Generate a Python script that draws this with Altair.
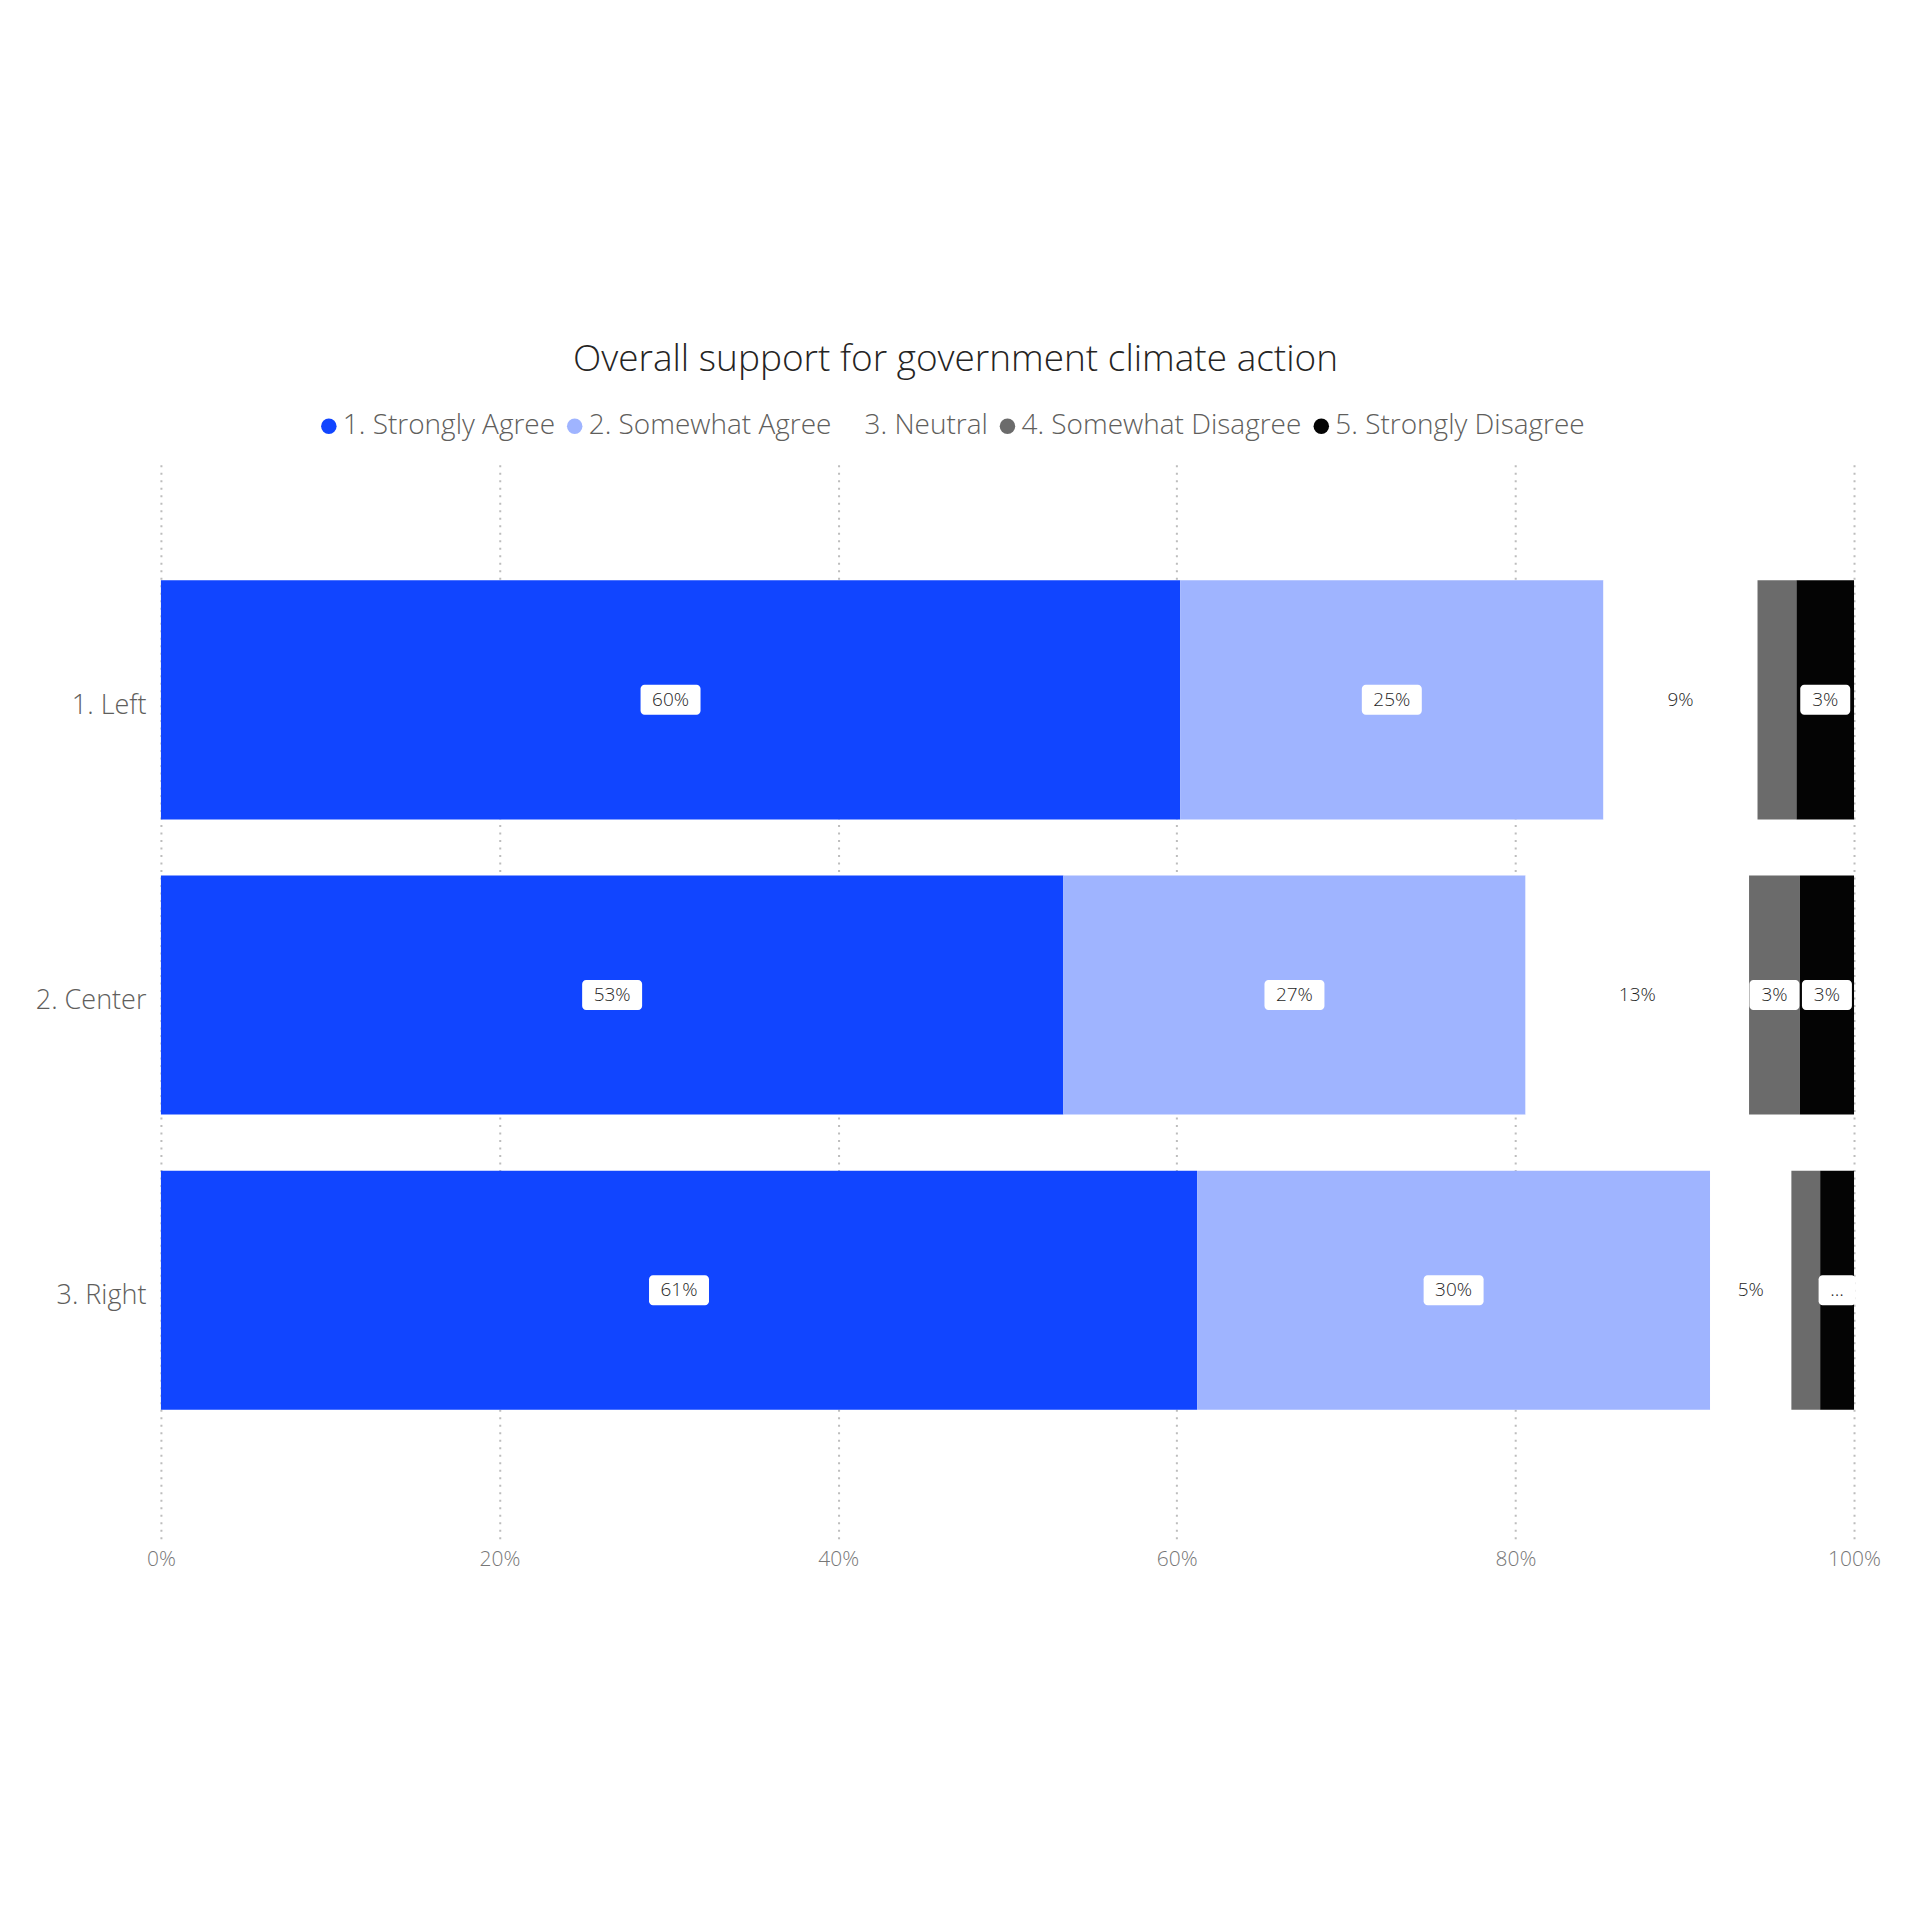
import altair as alt
import pandas as pd

groups = ["1. Left", "2. Center", "3. Right"]
categories = ["1. Strongly Agree", "2. Somewhat Agree", "3. Neutral",
              "4. Somewhat Disagree", "5. Strongly Disagree"]
colors = ["#1145FF", "#9FB4FF", "#FFFFFF", "#6B6B6B", "#040404"]

left_vals = [60.2, 25.0, 9.1, 2.3, 3.4]
center_vals = [53.3, 27.3, 13.2, 3.0, 3.2]
right_vals = [61.2, 30.3, 4.8, 1.7, 2.0]

left_labels = ["60%", "25%", "9%", "", "3%"]
center_labels = ["53%", "27%", "13%", "3%", "3%"]
right_labels = ["61%", "30%", "5%", "", "…"]

rows = []
for g, vals, labs in [(groups[0], left_vals, left_labels),
                      (groups[1], center_vals, center_labels),
                      (groups[2], right_vals, right_labels)]:
    cum = 0.0
    for i, (c, v, l) in enumerate(zip(categories, vals, labs)):
        start = cum / 100
        end = (cum + v) / 100
        cum += v
        rows.append({"group": g, "cat": c, "order": i, "start": start,
                     "end": end, "mid": (start + end) / 2, "label": l,
                     "boxed": (l != "" and c != "3. Neutral"),
                     "nchar": len(l)})
df = pd.DataFrame(rows)

FONT = "Open Sans"

x_scale = alt.Scale(domain=[0, 1], nice=False, zero=True)
y_scale = alt.Scale(domain=groups, paddingInner=0.19, paddingOuter=0.42,
                    align=0.48)

base = alt.Chart(df)

bars = base.mark_bar().encode(
    x=alt.X("start:Q", scale=x_scale,
            axis=alt.Axis(values=[0, 0.2, 0.4, 0.6, 0.8, 1.0], format=".0%",
                          title=None, grid=True, gridDash=[2, 5.5],
                          gridColor="#BDBDBD", gridWidth=2,
                          domain=False, ticks=False, labelPadding=10,
                          labelFlush=False,
                          labelFontSize=21, labelColor="#777777",
                          labelFont=FONT, labelFontWeight=300)),
    x2="end:Q",
    y=alt.Y("group:N", scale=y_scale,
            axis=alt.Axis(title=None, domain=False, ticks=False, grid=False,
                          labelFontSize=27, labelColor="#605E5C",
                          labelFont=FONT, labelFontWeight=300,
                          labelPadding=15, labelOffset=6)),
    color=alt.Color("cat:N", scale=alt.Scale(domain=categories, range=colors),
                    legend=alt.Legend(title=None, orient="none",
                                      legendX=154, legendY=-49,
                                      direction="horizontal", columns=5,
                                      symbolType="circle", symbolSize=240,
                                      labelFontSize=28, labelColor="#605E5C",
                                      labelFont=FONT, labelFontWeight=300,
                                      labelLimit=0,
                                      labelOffset=0, columnPadding=5,
                                      symbolStrokeWidth=0)),
    order=alt.Order("order:Q"),
)

def boxes(n, w):
    return base.transform_filter(
        (alt.datum.boxed == True) & (alt.datum.nchar == n)
    ).mark_bar(color="white", height=30, cornerRadius=4,
               xOffset=-w / 2, x2Offset=w / 2).encode(
        x=alt.X("mid:Q", scale=x_scale),
        x2="mid:Q",
        y=alt.Y("group:N", scale=y_scale),
    )

box3 = boxes(3, 60)
box2 = boxes(2, 50)
box1 = boxes(1, 37)

texts = base.transform_filter(alt.datum.label != "").mark_text(
    fontSize=19, color="#1F1F1F", font=FONT, fontWeight=300,
    baseline="middle", align="center"
).encode(
    x=alt.X("mid:Q", scale=x_scale),
    y=alt.Y("group:N", scale=y_scale),
    text="label:N",
)

chart = alt.layer(bars, box3, box2, box1, texts).properties(
    width=1694,
    height=1078,
    title=alt.TitleParams("Overall support for government climate action",
                          fontSize=37, font=FONT, fontWeight=300,
                          color="#252423", anchor="middle", dx=-52,
                          offset=33),
    autosize=alt.AutoSizeParams(type="none"),
    padding={"left": 153, "top": 453, "right": 50, "bottom": 360},
).configure_view(stroke=None)

chart.save("out.html", embed_options={"renderer": "svg", "actions": False})
